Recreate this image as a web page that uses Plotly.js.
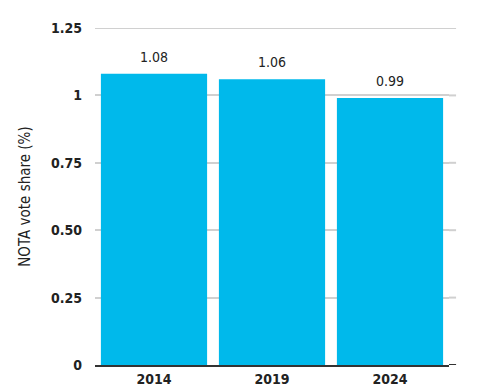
<!DOCTYPE html>
<html>
<head>
<meta charset="utf-8">
<script src="https://cdn.plot.ly/plotly-3.0.1.min.js"></script>
<style>html,body{margin:0;padding:0;background:#fff;}#chart{width:481px;height:387px;}</style>
</head>
<body>
<div id="chart"></div>
<script>
var years = ['2014', '2019', '2024'];
var notaShare = [1.08, 1.06, 0.99];
var yTickVals = [0, 0.25, 0.5, 0.75, 1, 1.25];
var yTickText = ['0', '0.25', '0.50', '0.75', '1', '1.25'];
var yTitle = 'NOTA vote share (%)';

var fontFam = '"DejaVu Sans Condensed", "Liberation Sans Narrow", Arial, sans-serif';

var trace = {
  type: 'bar',
  x: years,
  y: notaShare,
  marker: {color: '#00B9EB'},
  hoverinfo: 'none'
};

// category index i positions each label over its bar
var annotations = years.map(function(yr, i){
  return {
    x: i, y: notaShare[i], xref: 'x', yref: 'y',
    text: notaShare[i].toFixed(2),
    showarrow: false, yanchor: 'bottom', yshift: 7,
    font: {family: fontFam, size: 14, color: '#222'}
  };
});

var gridShapes = yTickVals.map(function(v){
  var isTop = v === yTickVals[yTickVals.length - 1];
  return {
    type: 'line', xref: 'paper', yref: 'y',
    x0: isTop ? 0 : 1, x1: 1.02, y0: v, y1: v,
    line: {color: v === 0 ? '#333' : '#d0d0d0', width: 2},
    layer: v === 0 ? 'above' : 'below'
  };
});

var layout = {
  width: 481, height: 387,
  margin: {l: 95, r: 32, t: 28, b: 22},
  paper_bgcolor: '#fff', plot_bgcolor: '#fff',
  bargap: 0.1,
  showlegend: false,
  font: {family: fontFam, size: 14, color: '#222'},
  annotations: annotations,
  shapes: gridShapes,
  xaxis: {
    type: 'category',
    range: [-0.5, years.length - 0.5],
    showgrid: false,
    showline: true, linecolor: '#333', linewidth: 2,
    ticks: '',
    tickfont: {family: fontFam, size: 14, color: '#222', weight: 'bold'},
    fixedrange: true
  },
  yaxis: {
    range: [0, 1.25],
    tickvals: yTickVals,
    ticktext: yTickText,
    showgrid: true, gridcolor: '#d0d0d0', gridwidth: 2,
    zeroline: false,
    showline: false,
    ticks: '',
    ticklabelstandoff: 12,
    tickfont: {family: fontFam, size: 14, color: '#222', weight: 'bold'},
    title: {text: yTitle, font: {family: fontFam, size: 15, color: '#222'}, standoff: 16},
    fixedrange: true
  }
};

Plotly.newPlot('chart', [trace], layout, {displayModeBar: false, staticPlot: true});
</script>
</body>
</html>
